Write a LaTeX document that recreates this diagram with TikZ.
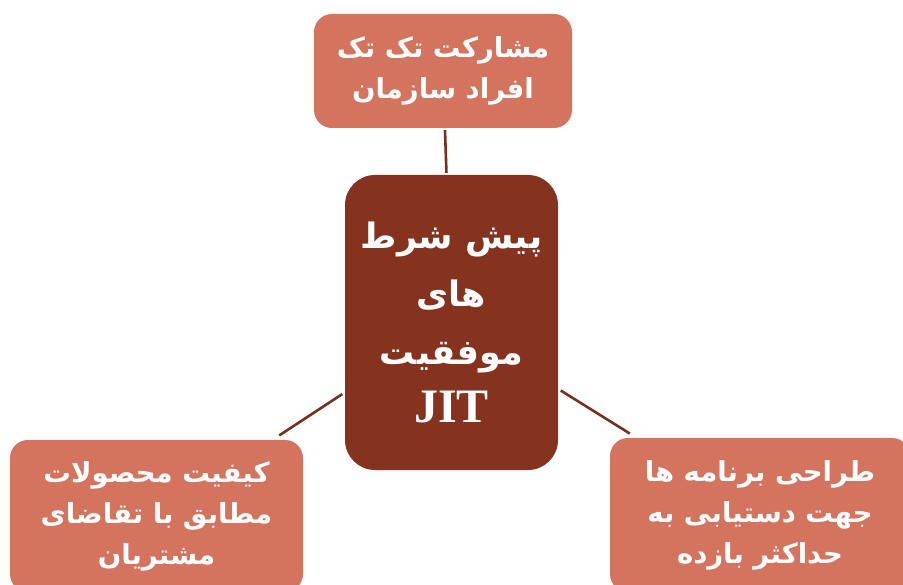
\documentclass[tikz,border=0pt]{standalone}
\usepackage{fontspec}
\TeXXeTstate=1
\newfontfamily\arabicfont[Script=Arabic]{DejaVu Sans}
\newfontfamily\jitfont{Liberation Serif}
\definecolor{salmon}{HTML}{D4735E}
\definecolor{brick}{HTML}{85331F}
\definecolor{linebrown}{HTML}{7A2E1E}
\begin{document}
\begin{tikzpicture}[x=1pt,y=-1pt,
  outerbox/.style={fill=salmon, rounded corners=18pt, text=white, align=center, inner sep=0pt,
    font=\arabicfont\bfseries\fontsize{27.5}{41}\selectfont},
  centerbox/.style={fill=brick, rounded corners=30pt, text=white, align=center, inner sep=0pt,
    minimum width=213pt, minimum height=295pt,
    font=\arabicfont\bfseries\fontsize{35}{58}\selectfont},
  conn/.style={draw=linebrown, line width=2.6pt}]
\useasboundingbox (0,0) rectangle (903,585);
\node[outerbox, minimum width=258pt, minimum height=114pt] (top) at (443,71)
  {\beginR مشارکت تک تک\endR\\\beginR افراد سازمان\endR};
\node[centerbox] (center) at (451.5,322.5)
  {\beginR پیش شرط\endR\\\beginR های\endR\\\beginR موفقیت\endR\\{\jitfont\bfseries\fontsize{48}{58}\selectfont JIT}};
\node[outerbox, minimum width=293pt, minimum height=152pt] (left) at (156.5,516)
  {\beginR کیفیت محصولات\endR\\\beginR مطابق با تقاضای\endR\\\beginR مشتریان\endR};
\node[outerbox, minimum width=300pt, minimum height=154pt] (right) at (760,515)
  {\beginR طراحی برنامه ها\endR\\\beginR جهت دستیابی به\endR\\\beginR حداکثر بازده\endR};
\draw[conn, shorten <=2pt, shorten >=2pt] (top) -- (center);
\draw[conn, shorten <=8pt, shorten >=3pt] (left) -- (center);
\draw[conn, shorten <=8pt, shorten >=3pt] (right) -- (center);
\end{tikzpicture}
\end{document}
